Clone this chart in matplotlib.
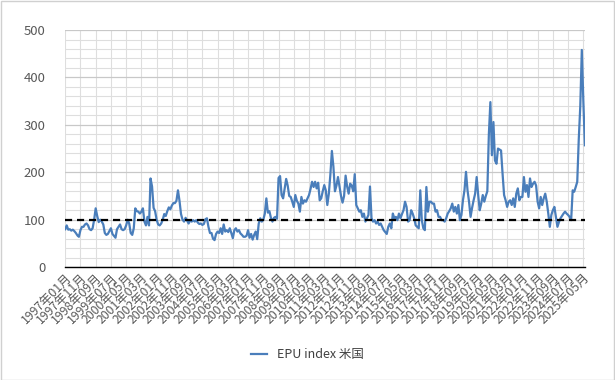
import numpy as np
import matplotlib
matplotlib.use("Agg")
import matplotlib.pyplot as plt
from matplotlib.patches import Rectangle

plt.rcParams['font.family'] = ['Noto Sans CJK JP', 'DejaVu Sans']

# monthly EPU index (US), 1997-01 .. 2025-06
epu_1997_2001 = [
    80, 88, 79, 80, 77, 79, 76, 72, 67, 64, 78, 85,
    85, 90, 92, 88, 80, 78, 82, 100, 124, 108, 95, 100,
    96, 90, 72, 68, 70, 76, 82, 70, 66, 62, 80, 85,
    90, 80, 78, 80, 88, 100, 92, 72, 68, 82, 124, 118,
    117, 113, 117, 124, 96, 88, 106, 88, 187, 170, 125, 118,
]
epu_2002_2006 = [
    100, 90, 88, 92, 100, 112, 108, 118, 126, 122, 130, 135,
    135, 140, 162, 140, 112, 100, 96, 104, 98, 92, 99, 96,
    99, 96, 99, 94, 91, 92, 89, 91, 101, 103, 85, 72,
    72, 60, 57, 70, 75, 72, 82, 70, 90, 75, 78, 74,
    82, 72, 61, 78, 82, 75, 78, 71, 68, 64, 64, 66,
]
epu_2007_2011 = [
    78, 62, 70, 58, 68, 75, 59, 92, 103, 96, 100, 113,
    145, 115, 118, 104, 96, 104, 106, 102, 188, 192, 152, 145,
    166, 186, 172, 150, 148, 138, 127, 152, 140, 134, 117, 148,
    134, 141, 138, 145, 152, 165, 180, 169, 180, 166, 178, 141,
    145, 160, 173, 162, 131, 155, 195, 245, 212, 160, 172, 190,
]
epu_2012_2016 = [
    170, 150, 136, 150, 193, 170, 155, 176, 172, 160, 196, 131,
    124, 117, 120, 106, 113, 96, 103, 110, 170, 103, 96, 99,
    92, 96, 89, 92, 85, 78, 74, 70, 85, 92, 82, 113,
    103, 106, 99, 113, 103, 112, 120, 138, 127, 96, 99, 120,
    113, 103, 88, 85, 82, 162, 99, 82, 78, 169, 117, 138,
]
epu_2017_2021 = [
    138, 134, 134, 117, 120, 106, 106, 99, 99, 96, 103, 113,
    118, 124, 134, 117, 127, 113, 131, 99, 110, 141, 162, 201,
    162, 138, 106, 125, 141, 155, 190, 152, 120, 134, 152, 138,
    150, 160, 280, 348, 236, 306, 225, 218, 250, 248, 246, 197,
    152, 141, 127, 138, 141, 131, 145, 127, 155, 166, 141, 148,
]
epu_2022_2025 = [
    148, 190, 159, 173, 148, 187, 169, 176, 180, 172, 138, 124,
    148, 131, 145, 155, 138, 113, 85, 110, 120, 127, 106, 85,
    95, 103, 108, 113, 117, 113, 110, 106, 99, 162, 159, 169,
    180, 270, 340, 458, 350, 257,
]
epu = (epu_1997_2001 + epu_2002_2006 + epu_2007_2011 +
       epu_2012_2016 + epu_2017_2021 + epu_2022_2025)

start_year = 1997
labels = [f"{start_year + i // 12}年{i % 12 + 1:02d}月" for i in range(len(epu))]
x = np.arange(len(epu))
tick_pos = x[::10]
tick_labels = [labels[i] for i in tick_pos]
series_name = "EPU index 米国"
baseline = 100

fig = plt.figure(figsize=(6.15, 3.8), dpi=100, facecolor='white')
ax = fig.add_axes([0.106, 0.297, 0.845, 0.624])

ax.plot(x, epu, color='#4a7ebb', linewidth=1.6, label=series_name, zorder=3)
ax.axhline(baseline, color='black', linestyle=(0, (3.2, 2.2)), linewidth=1.6, zorder=4)

ax.set_xlim(0, len(epu) - 1)
ax.set_ylim(0, 500)
ax.set_yticks(np.arange(0, 501, 100))
ax.set_yticks(np.arange(0, 501, 20), minor=True)
ax.set_xticks(tick_pos)
ax.set_xticklabels(tick_labels, rotation=45, ha='right', rotation_mode='anchor',
                   fontsize=8.8, color='#595959')
ax.tick_params(axis='y', labelsize=9.5, colors='#595959', length=0, pad=14)
ax.tick_params(axis='y', which='minor', length=0)
ax.tick_params(axis='x', length=0, pad=3)

ax.grid(True, which='major', axis='y', color='#c8c8c8', linewidth=0.9)
ax.grid(True, which='minor', axis='y', color='#dedede', linewidth=0.8)
ax.grid(True, which='major', axis='x', color='#dedede', linewidth=0.8)
ax.set_axisbelow(True)

for s in ['top', 'right', 'left']:
    ax.spines[s].set_visible(False)
ax.spines['bottom'].set_color('black')
ax.spines['bottom'].set_linewidth(1.0)
ax.spines['bottom'].set_zorder(5)

fig.legend(loc='lower center', bbox_to_anchor=(0.5, 0.02), frameon=False,
           fontsize=9, handlelength=1.3, labelcolor='#404040')

fig.patches.append(Rectangle((0.001, 0.001), 0.997, 0.997, transform=fig.transFigure,
                             fill=False, edgecolor='#d0d0d0', linewidth=1))

fig.savefig('out.png', dpi=100)
